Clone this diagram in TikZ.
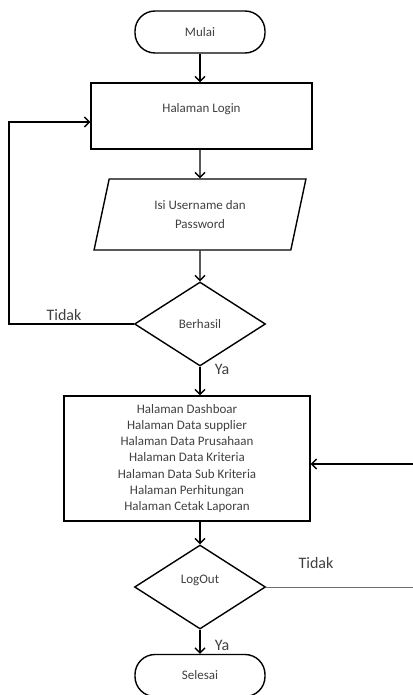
\documentclass[tikz,border=0pt]{standalone}
\usepackage{fontspec}
\setmainfont{Carlito}
\definecolor{textgray}{RGB}{64, 64, 64}
\definecolor{linegray}{RGB}{110, 110, 110}
\usetikzlibrary{shapes.geometric, arrows.meta, positioning}

\begin{document}
\begin{tikzpicture}[x=1pt, y=-1pt,
    font=\fontsize{13}{16.3}\selectfont, text=textgray,
    terminal/.style={draw=black, line width=1.4pt, rounded corners=20pt, minimum width=130pt, minimum height=42pt, inner sep=0pt},
    process/.style={draw=black, line width=1.4pt, rectangle, inner sep=0pt, align=center},
    inout/.style={draw=black, line width=1.4pt, trapezium, trapezium left angle=75, trapezium right angle=105, trapezium stretches=true, minimum width=212pt, minimum height=71pt, inner sep=0pt, align=center},
    decision/.style={draw=black, line width=1.4pt, diamond, minimum width=131pt, minimum height=84pt, inner sep=0pt},
    flow/.style={line width=1.4pt, -{Straight Barb[length=5pt, width=10pt]}},
    answer/.style={font=\fontsize{16}{19}\selectfont}]
  \useasboundingbox (0, 0) rectangle (412, 695);

  % Login
  \node[terminal] (mulai) at (200, 32) {Mulai};
  \node[process, minimum width=221pt, minimum height=66pt, text depth=17pt] (login) at (201.5, 116) {Halaman Login};
  \node[inout] (input) at (200, 214.5) {Isi Username dan\\[3pt]Password};
  \node[decision] (berhasil) at (200, 324) {Berhasil};
  \node[answer] (tidak1) at (64, 315) {Tidak};
  \node[answer] (ya1) at (222, 369) {Ya};

  % Menu
  \node[process, minimum width=246pt, minimum height=125pt] (menu) at (187, 458.5) {Halaman Dashboar\\Halaman Data supplier\\Halaman Data Prusahaan\\Halaman Data Kriteria\\Halaman Data Sub Kriteria\\Halaman Perhitungan\\Halaman Cetak Laporan};
  \node[decision, text depth=15pt] (logout) at (200, 587) {LogOut};
  \node[answer] (tidak2) at (316, 563) {Tidak};
  \node[answer] (ya2) at (222, 645) {Ya};
  \node[terminal] (selesai) at (200, 675.5) {Selesai};

  \coordinate (loopL) at (9, 324);
  \coordinate (loopR) at (414, 587);
  \coordinate (loopRtop) at (414, 464);

  \draw[flow] (mulai) -- (login.north -| mulai);
  \draw[flow] (login.south -| input) -- (input);
  \draw[flow] (input) -- (berhasil);
  \draw[flow] (berhasil) -- (menu.north -| berhasil);
  \draw[flow] (berhasil.west) -- (loopL) |- ([yshift=-6pt]login.west);
  \draw[flow] (menu.south -| logout) -- (logout);
  \draw[flow] (logout) -- (selesai);
  \draw[line width=1pt, linegray] (logout.east) -- (loopR) -- (loopRtop);
  \draw[flow] (loopRtop) -- (menu.east |- loopRtop);
\end{tikzpicture}
\end{document}
